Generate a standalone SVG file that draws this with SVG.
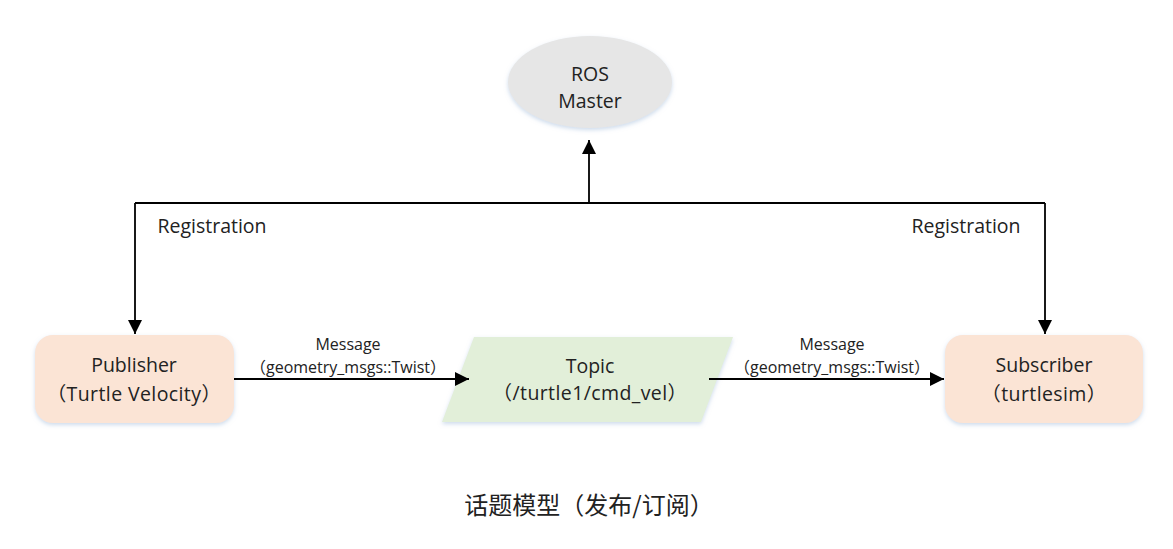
<svg xmlns="http://www.w3.org/2000/svg" width="1173" height="549" viewBox="0 0 1173 549">
<style>
text{font-family:"Open Sans","Noto Sans","Noto Sans CJK SC",sans-serif;fill:#222;text-anchor:middle}
.n{font-size:19.5px}
.s{font-size:16px}
.p{font-family:"Noto Sans CJK SC",sans-serif}
.l{stroke:#000;stroke-width:1.8;fill:none}
</style>
<defs>
<marker id="ah" viewBox="0 0 10 10" refX="10" refY="5" markerWidth="14" markerHeight="14" markerUnits="userSpaceOnUse" orient="auto">
<path d="M0,0L10,5L0,10z" fill="#000"/>
</marker>
<filter id="sh" x="-10%" y="-10%" width="120%" height="130%">
<feDropShadow dx="0" dy="2" stdDeviation="2" flood-color="#9db8d8" flood-opacity="0.5"/>
</filter>
</defs>
<rect width="1173" height="549" fill="#fff"/>
<g id="ros-master">
<ellipse cx="590" cy="82" rx="82" ry="46" fill="#e6e6e6" filter="url(#sh)"/>
<text class="n" x="590" y="81">ROS</text>
<text class="n" x="590" y="108">Master</text>
</g>
<g id="publisher">
<rect x="35" y="335" width="199" height="88" rx="18" fill="#fbe4d5" filter="url(#sh)"/>
<text class="n" x="134" y="372">Publisher</text>
<text class="n" x="134" y="401" letter-spacing="0.4"><tspan class="p">（</tspan>Turtle Velocity<tspan class="p">）</tspan></text>
</g>
<g id="topic">
<path d="M474,337H733L701,422H442z" fill="#e2efd9" filter="url(#sh)"/>
<text class="n" x="590" y="373">Topic</text>
<text class="n" x="590" y="400" letter-spacing="0.4"><tspan class="p">（</tspan>/turtle1/cmd_vel<tspan class="p">）</tspan></text>
</g>
<g id="subscriber">
<rect x="945" y="335" width="198" height="88" rx="18" fill="#fbe4d5" filter="url(#sh)"/>
<text class="n" x="1044" y="372">Subscriber</text>
<text class="n" x="1044" y="401" letter-spacing="0.4"><tspan class="p">（</tspan>turtlesim<tspan class="p">）</tspan></text>
</g>
<g id="connectors">
<path class="l" d="M589,203V140" marker-end="url(#ah)"/>
<path class="l" d="M135,203H1045"/>
<path class="l" d="M135,203V334" marker-end="url(#ah)"/>
<path class="l" d="M1045,203V334" marker-end="url(#ah)"/>
<path class="l" d="M234,379H469" marker-end="url(#ah)"/>
<path class="l" d="M709,379H944" marker-end="url(#ah)"/>
</g>
<g id="labels">
<text class="n" x="212" y="233">Registration</text>
<text class="n" x="966" y="233">Registration</text>
<text class="s" x="348" y="350">Message</text>
<text class="s" x="348" y="373"><tspan class="p">（</tspan>geometry_msgs::Twist<tspan class="p">）</tspan></text>
<text class="s" x="832" y="350">Message</text>
<text class="s" x="832" y="373"><tspan class="p">（</tspan>geometry_msgs::Twist<tspan class="p">）</tspan></text>
<text x="589" y="514" style="font-size:24px;font-family:'Noto Sans CJK SC',sans-serif">话题模型（发布/订阅）</text>
</g>
</svg>
